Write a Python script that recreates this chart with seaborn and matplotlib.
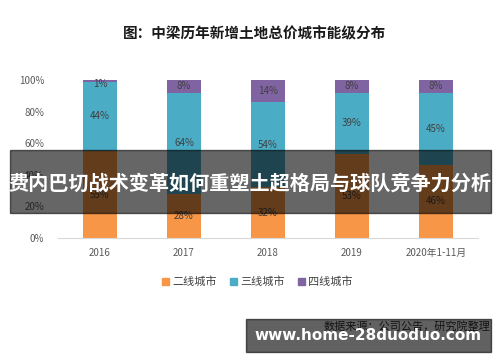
import matplotlib
matplotlib.use("Agg")
import matplotlib.pyplot as plt
import numpy as np
import pandas as pd
import seaborn as sns
from matplotlib.patches import Rectangle

# 数据
years = ["2016", "2017", "2018", "2019", "2020年1-11月"]
tier2 = [55, 28, 32, 53, 46]
tier3 = [44, 64, 54, 39, 45]
tier4 = [1, 8, 14, 8, 8]
series_names = ["二线城市", "三线城市", "四线城市"]
colors = ["#F79646", "#4BACC6", "#8064A2"]

sns.set_style("white")
plt.rcParams['font.family'] = ['Noto Sans CJK SC', 'DejaVu Sans']

fig = plt.figure(figsize=(5, 3.62), dpi=100)
ax = fig.add_axes([0.116, 0.3425, 0.84, 0.4365])

df = pd.DataFrame({"year": years, "t2": tier2, "t3": tier3, "t4": tier4})
total = df["t2"] + df["t3"] + df["t4"]
# 百分比堆积：按总和归一化
df["p2"] = df["t2"] / total * 100
df["p23"] = (df["t2"] + df["t3"]) / total * 100
df["p234"] = 100.0

# 叠加柱：先画总和，再画前两项，再画第一项
bar_kws = dict(width=0.4, saturation=1, linewidth=0, edgecolor="none", ax=ax)
sns.barplot(data=df, x="year", y="p234", color=colors[2], **bar_kws)
sns.barplot(data=df, x="year", y="p23", color=colors[1], **bar_kws)
sns.barplot(data=df, x="year", y="p2", color=colors[0], **bar_kws)

# 数据标签
for i in range(len(years)):
    b2 = df["p2"][i]
    b3 = df["p23"][i]
    ax.text(i, b2 / 2, f"{tier2[i]}%", ha="center", va="center", fontsize=7, color="#404040")
    ax.text(i, (b2 + b3) / 2, f"{tier3[i]}%", ha="center", va="center", fontsize=7, color="#404040")
    y4 = (b3 + 100) / 2
    if tier4[i] < 3:
        y4 = b3 - 1.5
    ax.text(i, y4, f"{tier4[i]}%", ha="center", va="center", fontsize=7, color="#404040")

ax.set_ylim(0, 100)
ax.set_xlim(-0.5, 4.5)
ax.set_yticks([0, 20, 40, 60, 80, 100])
ax.set_yticklabels([f"{v}%" for v in [0, 20, 40, 60, 80, 100]])
ax.set_xlabel("")
ax.set_ylabel("")
ax.tick_params(axis="both", length=0, labelsize=7, labelcolor="#595959")
ax.tick_params(axis="y", pad=10)
ax.tick_params(axis="x", pad=7)
for s in ["top", "right", "left"]:
    ax.spines[s].set_visible(False)
ax.spines["bottom"].set_color("#d9d9d9")

# 图例
handles = [Rectangle((0, 0), 1, 1, color=c) for c in colors]
fig.legend(handles, series_names, loc="center", bbox_to_anchor=(0.515, 1 - 282 / 362),
           ncol=3, frameon=False, fontsize=8, handlelength=0.6, handleheight=0.6,
           handletextpad=0.3, columnspacing=1.2, labelcolor="#404040")

# 标题
fig.text(0.51, 1 - 33 / 362, "图：中梁历年新增土地总价城市能级分布", ha="center", va="center",
         fontsize=10.5, fontweight="bold", color="#1a1a1a")

# 数据来源
fig.text(0.98, 1 - 326 / 362, "数据来源：公司公告，研究院整理", ha="right", va="center",
         fontsize=8, color="#333333")

# 遮罩横幅
fig.patches.append(Rectangle((10 / 500, 1 - 213 / 362), 481 / 500, 63 / 362,
                             transform=fig.transFigure, color="black", alpha=0.6, zorder=10))
fig.text(0.5, 1 - 183 / 362, "费内巴切战术变革如何重塑土超格局与球队竞争力分析", ha="center", va="center",
         fontsize=14.5, fontweight="bold", color="white", zorder=11)

fig.patches.append(Rectangle((246 / 500, 1 - 352 / 362), 245 / 500, 33 / 362,
                             transform=fig.transFigure, color="black", alpha=0.62, zorder=10))
fig.text(368 / 500, 1 - 336 / 362, "www.home-28duoduo.com", ha="center", va="center",
         fontsize=11, fontweight="bold", color="white", family=["DejaVu Sans"], zorder=11)

fig.savefig("out.png", dpi=100)
